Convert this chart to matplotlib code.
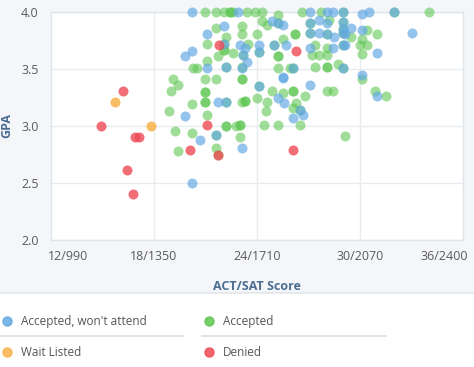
import matplotlib
matplotlib.use("Agg")
import matplotlib.pyplot as plt
from matplotlib.lines import Line2D
from matplotlib.patches import Rectangle

# ---------------- data (ACT score, GPA) ----------------
act_blue = [20.2, 22.9, 27.1, 28.1, 28.4, 30.1, 30.5, 22.1, 21.1, 24.9, 25.5, 27.6,
            28.1, 27.6, 28.5, 29.5, 29.1, 30.1, 33.0, 20.2, 19.8, 23.0, 23.3, 24.1,
            25.7, 27.1, 28.4, 29.1, 31.0, 23.4, 23.1, 21.1, 25.5, 30.1, 27.1, 25.5,
            31.0, 21.7, 25.2, 25.6, 26.7, 26.1, 19.8, 20.7, 23.1, 20.2]
gpa_blue = [4.00, 4.00, 4.00, 4.00, 4.00, 3.98, 4.00, 3.88, 3.81, 3.92, 3.89, 3.93,
            3.90, 3.82, 3.78, 3.86, 3.81, 3.84, 3.82, 3.66, 3.61, 3.71, 3.68, 3.71,
            3.71, 3.68, 3.68, 3.71, 3.64, 3.56, 3.51, 3.51, 3.43, 3.45, 3.36, 3.42,
            3.26, 3.21, 3.25, 3.20, 3.10, 3.07, 3.09, 2.88, 2.81, 2.50]

# points where an "accepted, won't attend" and an "accepted" dot overlap
act_both = [29.0, 32.0, 25.2, 27.1, 29.0, 27.1, 28.1, 29.0, 22.1, 24.1, 25.0, 23.2,
            29.0, 22.2, 26.1, 29.0, 24.1, 26.5, 21.6, 22.2, 29.0]
gpa_both = [4.00, 4.00, 3.90, 3.90, 3.91, 3.82, 3.81, 3.82, 3.72, 3.65, 3.71, 3.62,
            3.71, 3.52, 3.51, 3.51, 3.35, 3.14, 2.92, 3.21, 3.85]

act_green = [21.0, 21.6, 22.1, 22.4, 22.4, 22.6, 23.4, 23.9, 24.3, 25.2, 26.6, 27.7, 34.0,
             21.6, 22.2, 23.1, 23.1, 24.3, 24.6, 24.0, 26.2, 26.2, 25.5, 28.2, 30.4,
             31.0, 29.5, 30.1, 30.0, 30.4, 30.1, 21.1, 22.1, 22.1, 22.6, 23.5, 25.2,
             25.2, 27.2, 27.6, 28.1, 27.4, 28.1, 21.1, 21.7, 20.3, 20.5, 23.1, 25.2,
             25.9, 27.4, 28.1, 28.1, 28.7, 30.1, 19.1, 21.0, 21.6, 23.1, 23.1, 19.4,
             19.0, 21.0, 21.0, 21.0, 21.0, 23.1, 23.3, 23.3, 20.2, 18.9, 21.1, 24.0,
             24.9, 25.5, 26.1, 26.1, 26.8, 28.1, 28.4, 30.9, 31.5, 24.6, 26.3, 26.1,
             24.5, 22.2, 22.2, 22.8, 23.0, 23.0, 24.4, 25.2, 26.5, 19.2, 20.2, 23.0,
             29.1, 19.4, 21.6, 21.7]
gpa_green = [4.00, 4.00, 4.00, 4.00, 4.00, 4.00, 4.00, 4.00, 4.00, 3.97, 4.00, 4.00, 4.00,
             3.86, 3.78, 3.88, 3.81, 3.92, 3.89, 3.81, 3.81, 3.81, 3.76, 3.93, 3.84,
             3.81, 3.78, 3.76, 3.71, 3.71, 3.63, 3.72, 3.67, 3.67, 3.64, 3.72, 3.61,
             3.61, 3.62, 3.62, 3.62, 3.71, 3.68, 3.57, 3.61, 3.51, 3.51, 3.52, 3.51,
             3.51, 3.52, 3.52, 3.52, 3.54, 3.41, 3.41, 3.41, 3.41, 3.41, 3.41, 3.36,
             3.31, 3.30, 3.30, 3.21, 3.21, 3.21, 3.22, 3.22, 3.19, 3.13, 3.10, 3.25,
             3.31, 3.29, 3.31, 3.31, 3.26, 3.31, 3.31, 3.31, 3.26, 3.21, 3.20, 3.16,
             3.13, 3.00, 3.00, 3.00, 3.01, 3.01, 3.01, 3.01, 3.01, 2.96, 2.94, 2.90,
             2.91, 2.78, 2.81, 2.75]

act_wait = [15.7, 17.8]
gpa_wait = [3.21, 3.00]

act_denied = [14.9, 16.2, 16.9, 17.1, 16.4, 16.8, 21.8, 26.3, 21.1, 20.1, 21.7, 26.1]
gpa_denied = [3.00, 3.31, 2.90, 2.90, 2.61, 2.40, 3.71, 3.66, 3.01, 2.79, 2.75, 2.79]

x_ticks = [12, 18, 24, 30, 36]
x_labels = ["12/990", "18/1350", "24/1710", "30/2070", "36/2400"]
y_ticks = [2.0, 2.5, 3.0, 3.5, 4.0]
series_names = ["Accepted, won't attend", "Accepted", "Wait Listed", "Denied"]

# ---------------- styling ----------------
C_BLUE = "#62a8e2"
C_GREEN = "#5cc650"
C_ORANGE = "#f9b24a"
C_RED = "#ef4a55"
FONT = "Open Sans"
TICK_C = "#5a5a5a"
TITLE_C = "#4b6d92"

W, H = 474, 367
fig = plt.figure(figsize=(W / 100, H / 100), dpi=100)
fig.patch.set_facecolor("white")

# light grey chart band behind the plot
band = Rectangle((0, 1 - 293 / H), 1, 293 / H, transform=fig.transFigure,
                 facecolor="#f4f6f9", edgecolor="none", zorder=-10)
fig.add_artist(band)
fig.add_artist(Line2D([0, 1], [1 - 293 / H, 1 - 293 / H], transform=fig.transFigure,
                      color="#e3e7ec", lw=1.2, zorder=-9))

ax = fig.add_axes([51 / W, 1 - 240 / H, (463 - 51) / W, (240 - 12) / H])
ax.set_zorder(1)
ax.set_facecolor("white")
ax.set_xlim(12, 36)
ax.set_ylim(2.0, 4.0)

for s in ax.spines.values():
    s.set_color("#dfe4ea")
    s.set_linewidth(1.0)

ax.set_xticks([18, 24, 30])
ax.set_xticklabels([])
ax.set_yticks(y_ticks)
ax.set_yticklabels(["%.1f" % v for v in y_ticks], fontsize=9, color=TICK_C, family=FONT)
ax.tick_params(axis="both", length=0, pad=9)
ax.grid(True, color="#e8ebef", lw=1.0)
ax.set_axisbelow(True)

# x tick labels (first/last kept inside the chart like the reference)
for v, lab in zip(x_ticks, x_labels):
    ha = "center"
    dx = 0
    if v == x_ticks[0]:
        ha, dx = "left", -3
    elif v == x_ticks[-1]:
        ha, dx = "right", 5
    ax.annotate(lab, xy=(v, 2.0), xycoords="data", xytext=(dx * 0.72, -12),
                textcoords="offset points", ha=ha, va="center",
                fontsize=9, color=TICK_C, family=FONT, annotation_clip=False)

ax.set_xlabel("ACT/SAT Score", fontsize=9, fontweight="bold", color=TITLE_C, family=FONT)
ax.xaxis.set_label_coords((257 - 51) / 412, (240 - 280) / 228)
ax.set_ylabel("GPA", fontsize=9, fontweight="bold", color=TITLE_C, family=FONT)
ax.yaxis.set_label_coords((13 - 51) / 412, (240 - 126) / 228)

S = 52
ax.scatter(act_green, gpa_green, s=S, color=C_GREEN, alpha=0.58, lw=0, zorder=3, clip_on=False)
ax.scatter(act_both, gpa_both, s=S, color=C_GREEN, alpha=0.58, lw=0, zorder=3, clip_on=False)
ax.scatter(act_blue, gpa_blue, s=S, color=C_BLUE, alpha=0.68, lw=0, zorder=4, clip_on=False)
ax.scatter(act_both, gpa_both, s=S, color=C_BLUE, alpha=0.68, lw=0, zorder=4, clip_on=False)
ax.scatter(act_wait, gpa_wait, s=S, color=C_ORANGE, alpha=0.85, lw=0, zorder=5)
ax.scatter(act_denied, gpa_denied, s=S, color=C_RED, alpha=0.8, lw=0, zorder=6)

# ---------------- legend ----------------
leg = [(series_names[0], C_BLUE, 7, 321), (series_names[1], C_GREEN, 209, 321),
       (series_names[2], C_ORANGE, 7, 352), (series_names[3], C_RED, 209, 352)]
for name, col, px, py in leg:
    fig.add_artist(Line2D([px / W], [1 - py / H], transform=fig.transFigure,
                          marker="o", ms=6.5, color=col, alpha=0.85, lw=0))
    fig.text((px + 14) / W, 1 - py / H, name, ha="left", va="center",
             fontsize=8.5, color="#555555", family=FONT)
for x0, x1 in [(0, 183), (202, 386)]:
    fig.add_artist(Line2D([x0 / W, x1 / W], [1 - 336 / H, 1 - 336 / H],
                          transform=fig.transFigure, color="#dadfe5", lw=1.2))

fig.savefig("out.png", dpi=100, facecolor=fig.get_facecolor())
